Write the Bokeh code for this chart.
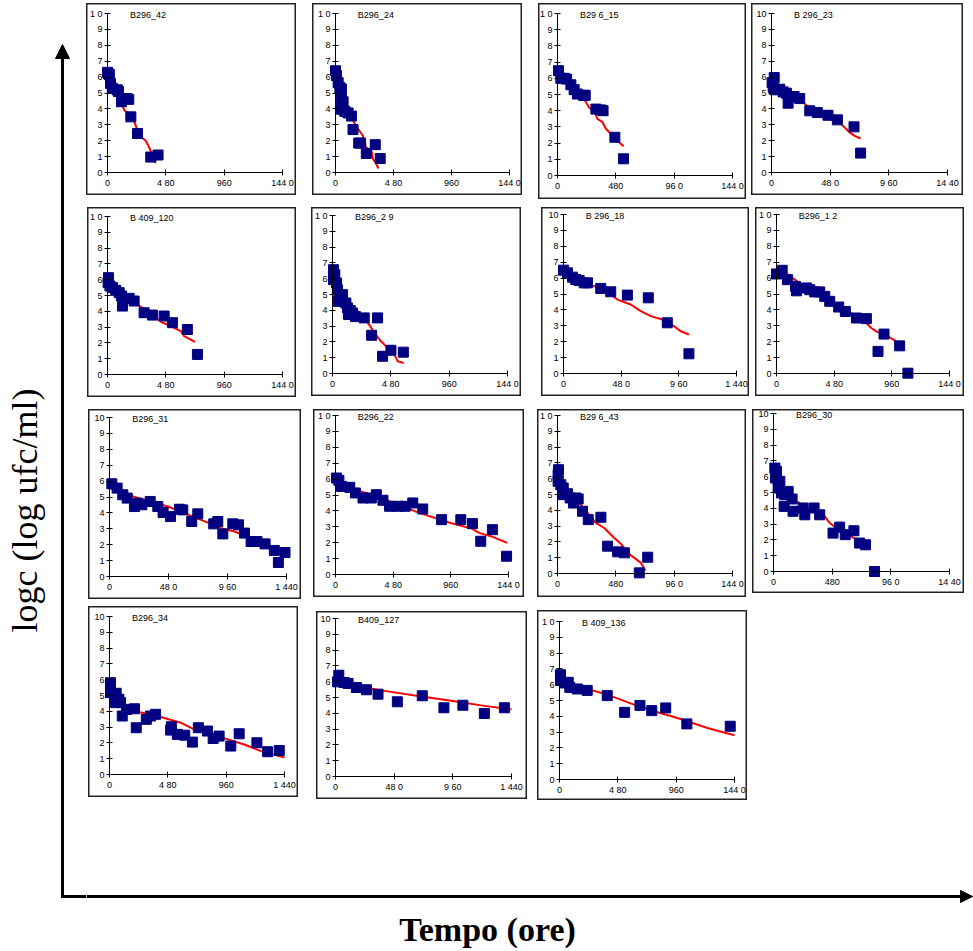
import math
from bokeh.plotting import figure
from bokeh.layouts import row, column
from bokeh.models import Range1d, FixedTicker, Label, Arrow, NormalHead
from bokeh.embed import file_html
from bokeh.resources import INLINE

# ---------------- data (time in hours, logc in log ufc/ml) ----------------
b296_42_t = [0, 10, 15, 25, 40, 80, 90, 115, 160, 175, 192, 247, 356, 416]
b296_42_logc = [6.3, 6.2, 6.15, 5.6, 5.3, 5.2, 5.1, 4.45, 4.65, 4.6, 3.5, 2.45, 0.97, 1.1]
b296_42_fit_t = [55, 90, 115, 140, 175, 220, 260, 290, 315, 345, 370, 397]
b296_42_fit = [5.3, 4.9, 4.35, 3.9, 3.7, 3.2, 2.4, 2.15, 2.0, 1.55, 1.05, 0.6]

b296_24_t = [0, 8, 22, 36, 49, 49, 63, 49, 77, 104, 132, 145, 192, 208, 255, 329, 370]
b296_24_logc = [6.4, 6.1, 5.65, 5.35, 5.25, 4.6, 4.45, 3.98, 3.85, 3.75, 3.55, 2.7, 1.85, 1.85, 1.2, 1.75, 0.88]
b296_24_fit_t = [0, 36, 77, 104, 145, 186, 228, 241, 250, 282, 300, 310, 329, 356]
b296_24_fit = [6.1, 5.0, 4.3, 3.8, 3.25, 2.75, 2.3, 1.9, 1.6, 1.4, 1.3, 0.85, 0.65, 0.25]

b296_15_t = [8, 27, 55, 75, 110, 137, 164, 214, 228, 316, 355, 375, 472, 543]
b296_15_logc = [6.47, 6.0, 6.0, 5.95, 5.6, 5.3, 5.03, 4.95, 4.95, 4.1, 4.05, 4.0, 2.36, 1.03]
b296_15_fit_t = [0, 60, 110, 164, 219, 260, 307, 329, 370, 397, 452, 507, 543]
b296_15_fit = [6.5, 5.95, 5.5, 5.13, 4.72, 4.2, 3.9, 3.5, 3.3, 2.9, 2.46, 2.05, 1.8]

b296_23_t = [5, 22, 14, 27, 68, 95, 122, 136, 185, 231, 313, 375, 462, 539, 675, 729]
b296_23_logc = [5.65, 5.97, 5.35, 5.2, 5.24, 5.07, 4.99, 4.36, 4.78, 4.65, 3.88, 3.77, 3.6, 3.31, 2.87, 1.22]
b296_23_fit_t = [0, 100, 245, 354, 462, 571, 639, 680, 729]
b296_23_fit = [5.4, 5.05, 4.5, 3.77, 3.4, 3.04, 2.52, 2.3, 2.14]

b409_120_t = [8, 5, 20, 41, 68, 96, 115, 123, 178, 219, 301, 370, 466, 534, 657, 740]
b409_120_logc = [6.13, 5.81, 5.6, 5.5, 5.33, 5.18, 4.97, 4.33, 4.82, 4.65, 3.91, 3.76, 3.7, 3.28, 2.85, 1.27]
b409_120_fit_t = [0, 100, 180, 246, 356, 452, 520, 603, 630, 720]
b409_120_fit = [5.9, 5.2, 4.8, 4.44, 3.8, 3.28, 3.07, 2.75, 2.43, 2.07]

b296_29_t = [8, 19, 8, 33, 41, 55, 47, 83, 110, 124, 146, 165, 132, 190, 261, 371, 322, 412, 481, 583]
b296_29_logc = [6.57, 6.25, 5.94, 5.73, 5.3, 4.78, 4.57, 4.99, 4.46, 4.15, 3.98, 3.83, 3.73, 3.6, 3.52, 3.52, 2.42, 1.09, 1.47, 1.35]
b296_29_fit_t = [0, 60, 124, 179, 240, 302, 344, 399, 454, 509, 536, 586]
b296_29_fit = [6.5, 5.2, 4.6, 4.15, 3.7, 3.1, 2.57, 2.04, 1.62, 1.2, 0.78, 0.67]

b296_18_t = [0, 33, 75, 102, 130, 172, 200, 310, 393, 532, 706, 864, 1044]
b296_18_logc = [6.5, 6.33, 6.06, 5.91, 5.85, 5.7, 5.7, 5.35, 5.14, 4.93, 4.76, 3.19, 1.24]
b296_18_fit_t = [0, 60, 130, 255, 366, 449, 560, 643, 726, 823, 920, 975, 1044]
b296_18_fit = [6.75, 6.3, 5.9, 5.5, 5.14, 4.65, 4.34, 3.92, 3.61, 3.4, 2.98, 2.66, 2.45]

b296_12_t = [0, 47, 91, 158, 166, 249, 277, 319, 360, 402, 443, 518, 573, 665, 748, 845, 895, 1025, 1094]
b296_12_logc = [6.26, 6.49, 5.9, 5.48, 5.2, 5.38, 5.27, 5.13, 5.13, 4.85, 4.54, 4.18, 3.9, 3.49, 3.45, 1.39, 2.48, 1.74, 0.02]
b296_12_fit_t = [0, 97, 208, 346, 485, 623, 734, 789, 831, 928, 997, 1039]
b296_12_fit = [6.53, 6.22, 5.59, 5.0, 4.33, 3.8, 3.28, 2.86, 2.65, 2.33, 2.02, 1.7]

b296_31_t = [19, 62, 108, 144, 203, 230, 263, 331, 393, 436, 496, 569, 596, 669, 718, 848, 881, 922, 1003, 1049, 1098, 1152, 1200, 1266, 1341, 1374, 1428]
b296_31_logc = [5.83, 5.56, 5.14, 4.93, 4.4, 4.61, 4.51, 4.72, 4.4, 4.03, 3.77, 4.23, 4.19, 3.46, 3.94, 3.31, 3.46, 2.68, 3.31, 3.25, 2.73, 2.2, 2.2, 2.05, 1.64, 0.88, 1.51]
b296_31_fit_t = [0, 176, 474, 745, 908, 1016, 1152, 1314, 1440]
b296_31_fit = [5.56, 5.07, 4.4, 3.56, 3.04, 2.83, 2.41, 1.89, 1.57]

b296_22_t = [8, 28, 50, 119, 166, 229, 298, 340, 395, 450, 519, 580, 643, 726, 883, 1043, 1140, 1209, 1306, 1424]
b296_22_logc = [6.07, 5.92, 5.54, 5.48, 5.13, 4.81, 4.81, 5.02, 4.67, 4.29, 4.29, 4.29, 4.5, 4.12, 3.45, 3.45, 3.2, 2.09, 2.82, 1.15]
b296_22_fit_t = [0, 270, 491, 684, 960, 1140, 1195, 1292, 1430]
b296_22_fit = [5.75, 5.08, 4.5, 3.91, 3.24, 2.87, 2.62, 2.41, 1.99]

b296_43_t = [8, 5, 5, 27, 47, 41, 82, 104, 132, 151, 170, 206, 253, 357, 412, 495, 550, 673, 742]
b296_43_logc = [6.57, 6.25, 5.83, 5.62, 5.41, 4.99, 5.05, 4.78, 4.46, 4.78, 4.72, 3.94, 3.41, 3.56, 1.73, 1.37, 1.31, 0.04, 1.03]
b296_43_fit_t = [0, 60, 110, 192, 247, 316, 385, 467, 528, 577, 632, 687, 723]
b296_43_fit = [6.3, 5.3, 4.88, 4.36, 3.83, 3.2, 2.88, 2.25, 1.83, 1.31, 0.99, 0.67, 0.19]

b296_30_t = [11, 24, 16, 52, 38, 65, 92, 120, 87, 152, 160, 242, 256, 332, 378, 487, 541, 587, 658, 704, 753, 827]
b296_30_logc = [6.55, 6.34, 5.92, 5.71, 5.29, 4.97, 4.86, 5.07, 4.12, 4.59, 3.81, 4.02, 3.59, 4.02, 3.59, 2.43, 2.81, 2.33, 2.58, 1.8, 1.69, 0.0]
b296_30_fit_t = [0, 92, 188, 256, 337, 419, 460, 514, 555, 637, 691, 753]
b296_30_fit = [6.2, 4.76, 4.44, 4.12, 3.91, 3.49, 3.07, 2.75, 2.54, 2.22, 1.95, 1.8]

b296_34_t = [8, 8, 55, 50, 77, 91, 105, 140, 206, 220, 303, 338, 379, 503, 509, 558, 619, 682, 731, 806, 853, 902, 998, 1067, 1213, 1301, 1397]
b296_34_logc = [5.81, 5.18, 5.14, 4.55, 4.76, 4.55, 3.7, 4.12, 4.16, 2.96, 3.49, 3.7, 3.81, 2.81, 3.02, 2.54, 2.49, 2.05, 2.96, 2.75, 2.28, 2.43, 1.8, 2.58, 2.01, 1.44, 1.52]
b296_34_fit_t = [0, 201, 393, 586, 696, 889, 1108, 1246, 1440]
b296_34_fit = [4.65, 4.02, 3.7, 3.28, 2.85, 2.43, 1.9, 1.48, 1.08]

b409_127_t = [27, 16, 71, 103, 171, 253, 348, 506, 710, 887, 1042, 1218, 1382]
b409_127_logc = [6.41, 5.99, 5.95, 5.89, 5.63, 5.49, 5.21, 4.73, 5.11, 4.35, 4.51, 3.99, 4.35]
b409_127_fit_t = [0, 131, 403, 675, 947, 1219, 1440]
b409_127_fit = [6.16, 5.78, 5.42, 5.1, 4.79, 4.47, 4.25]

b409_136_t = [8, 8, 41, 72, 85, 146, 228, 393, 536, 662, 759, 874, 1048, 1405]
b409_136_logc = [6.63, 6.27, 6.11, 6.15, 5.83, 5.73, 5.64, 5.31, 4.25, 4.69, 4.36, 4.53, 3.52, 3.37]
b409_136_fit_t = [0, 201, 393, 613, 778, 971, 1218, 1314, 1440]
b409_136_fit = [6.25, 5.79, 5.37, 4.74, 4.32, 3.89, 3.26, 3.05, 2.8]

# panel titles and tick label texts as printed
titles = ["B296_42", "B296_24", "B29 6_15", "B 296_23",
          "B 409_120", "B296_2 9", "B 296_18", "B296_1 2",
          "B296_31", "B296_22", "B29 6_43", "B296_30",
          "B296_34", "B409_127", "B 409_136"]
y_top_labels = ["1 0", "1 0", "1 0", "10",
                "1 0", "1 0", "10", "1 0",
                "10", "1 0", "1 0", "10",
                "10", "10", "1 0"]
x_tick_labels = [["0", "4 80", "960", "144 0"], ["0", "4 80", "960", "144 0"],
                 ["0", "480", "96 0", "144 0"], ["0", "48 0", "9 60", "14 40"],
                 ["0", "4 80", "960", "144 0"], ["0", "4 80", "960", "144 0"],
                 ["0", "48 0", "9 60", "1 440"], ["0", "4 80", "960", "144 0"],
                 ["0", "48 0", "9 60", "1 440"], ["0", "4 80", "960", "144 0"],
                 ["0", "480", "96 0", "144 0"], ["0", "480", "96 0", "14 40"],
                 ["0", "4 80", "960", "1 440"], ["0", "48 0", "9 60", "1 440"],
                 ["0", "4 80", "960", "144 0"]]
x_ticks = [0, 480, 960, 1440]
y_ticks = list(range(0, 11))

series = [
    (b296_42_t, b296_42_logc, b296_42_fit_t, b296_42_fit),
    (b296_24_t, b296_24_logc, b296_24_fit_t, b296_24_fit),
    (b296_15_t, b296_15_logc, b296_15_fit_t, b296_15_fit),
    (b296_23_t, b296_23_logc, b296_23_fit_t, b296_23_fit),
    (b409_120_t, b409_120_logc, b409_120_fit_t, b409_120_fit),
    (b296_29_t, b296_29_logc, b296_29_fit_t, b296_29_fit),
    (b296_18_t, b296_18_logc, b296_18_fit_t, b296_18_fit),
    (b296_12_t, b296_12_logc, b296_12_fit_t, b296_12_fit),
    (b296_31_t, b296_31_logc, b296_31_fit_t, b296_31_fit),
    (b296_22_t, b296_22_logc, b296_22_fit_t, b296_22_fit),
    (b296_43_t, b296_43_logc, b296_43_fit_t, b296_43_fit),
    (b296_30_t, b296_30_logc, b296_30_fit_t, b296_30_fit),
    (b296_34_t, b296_34_logc, b296_34_fit_t, b296_34_fit),
    (b409_127_t, b409_127_logc, b409_127_fit_t, b409_127_fit),
    (b409_136_t, b409_136_logc, b409_136_fit_t, b409_136_fit),
]

# ---------------- layout (page pixels) ----------------
# box left, top, right, bottom, axis x0, axis x1440, axis y10, axis y0
geom = [
    (86, 3, 296, 195, 107, 282, 13, 172),
    (312, 3, 522, 195, 335, 509, 13, 172),
    (538, 3, 746, 199, 557, 732, 13, 175),
    (751, 3, 963, 195, 771, 947, 13, 172),
    (87, 207, 296, 397, 107, 282, 216, 374),
    (311, 207, 521, 396, 332, 507, 215, 373),
    (541, 207, 749, 396, 563, 736, 214, 373),
    (755, 207, 964, 396, 776, 949, 214, 373),
    (88, 409, 301, 599, 109, 286, 417, 576),
    (313, 409, 524, 597, 335, 508, 415, 574),
    (537, 409, 746, 597, 557, 732, 415, 573),
    (752, 409, 964, 593, 773, 949, 413, 571),
    (88, 606, 298, 797, 109, 284, 616, 774),
    (316, 611, 527, 799, 335, 511, 618, 776),
    (537, 610, 747, 800, 559, 734, 621, 779),
]
row_tops = [0, 203, 404, 602, 803]
rows_idx = [[0, 1, 2, 3], [4, 5, 6, 7], [8, 9, 10, 11], [12, 13, 14]]
LEFT_W = 86
FONT = "Liberation Sans"


def make_panel(i, m):
    bl, bt, br, bb, ax0, ax1, ay10, ay0 = geom[i]
    t, y, ft, fy = series[i]
    # the frame fills the whole box; the axes sit inside it at t=0 and logc=0
    sx = 1440.0 / (ax1 - ax0)
    sy = 10.0 / (ay0 - ay10)
    xr = Range1d(-(ax0 - bl) * sx, 1440 + (br - ax1) * sx)
    yr = Range1d(-(bb - ay0) * sy, 10 + (ay10 - bt) * sy)
    p = figure(width=br - bl, height=bb - bt, x_range=xr, y_range=yr,
               output_backend="svg", toolbar_location=None, min_border=0,
               background_fill_color="white", border_fill_color="white",
               outline_line_color="#222222", outline_line_width=2, margin=m)
    p.grid.visible = False
    for ax in (p.xaxis[0], p.yaxis[0]):
        ax.fixed_location = 0
        ax.axis_line_color = "black"
        ax.axis_line_width = 1
        ax.major_tick_line_color = "black"
        ax.major_tick_in = 3
        ax.major_tick_out = 3
        ax.minor_tick_line_color = None
        ax.major_label_text_font = FONT
        ax.major_label_text_font_size = "9px"
        ax.major_label_text_color = "black"
        ax.major_label_standoff = 2
    p.xaxis.bounds = (0, 1440)
    p.yaxis.bounds = (0, 10)
    p.xaxis.ticker = FixedTicker(ticks=x_ticks)
    p.yaxis.ticker = FixedTicker(ticks=y_ticks)
    p.xaxis.major_label_overrides = {k: s for k, s in zip(x_ticks, x_tick_labels[i])}
    p.yaxis.major_label_overrides = {10: y_top_labels[i]}
    p.line(ft, fy, line_color="#ff0000", line_width=2)
    p.scatter(t, y, marker="square", size=10, fill_color="#000080", line_color="#000080")
    p.add_layout(Label(x=185, y=9.93, text=titles[i], text_font=FONT,
                       text_font_size="9px", text_baseline="middle", text_color="black"))
    return p


row_layouts = []
for r, idxs in enumerate(rows_idx):
    kids = []
    prev_right = LEFT_W
    for i in idxs:
        bl, bt, br, bb = geom[i][:4]
        m = (bt - row_tops[r], 0, row_tops[r + 1] - bb, bl - prev_right)
        kids.append(make_panel(i, m))
        prev_right = br
    row_layouts.append(row(*kids))

# left strip: vertical arrow + y label
lf = figure(width=LEFT_W, height=951, x_range=Range1d(0, LEFT_W), y_range=Range1d(951, 0),
            output_backend="svg", toolbar_location=None, min_border=0,
            x_axis_type=None, y_axis_type=None, outline_line_color=None)
lf.grid.visible = False
lf.add_layout(Arrow(x_start=62, y_start=897, x_end=62, y_end=44, line_width=3, line_color="black",
                    end=NormalHead(size=14, fill_color="black", line_color="black")))
lf.add_layout(Arrow(x_start=60.5, y_start=896, x_end=LEFT_W, y_end=896, line_width=3,
                    line_color="black", end=None))
lf.add_layout(Label(x=24, y=510, text="logc (log ufc/ml)", angle=math.pi / 2, text_align="center",
                    text_baseline="middle", text_font="Liberation Serif",
                    text_font_size="36px", text_color="black"))

# bottom strip: horizontal arrow + x label
bf = figure(width=973 - LEFT_W, height=951 - 803, x_range=Range1d(LEFT_W, 973), y_range=Range1d(951, 803),
            output_backend="svg", toolbar_location=None, min_border=0,
            x_axis_type=None, y_axis_type=None, outline_line_color=None)
bf.grid.visible = False
bf.add_layout(Arrow(x_start=LEFT_W, y_start=896, x_end=972, y_end=896, line_width=3, line_color="black",
                    end=NormalHead(size=12, fill_color="black", line_color="black")))
bf.add_layout(Label(x=487, y=929, text="Tempo (ore)", text_align="center", text_baseline="middle",
                    text_font="Liberation Serif", text_font_style="bold",
                    text_font_size="34px", text_color="black"))

right = column(*row_layouts, bf)
page = row(lf, right)

open("out.html", "w").write(file_html(page, INLINE))
